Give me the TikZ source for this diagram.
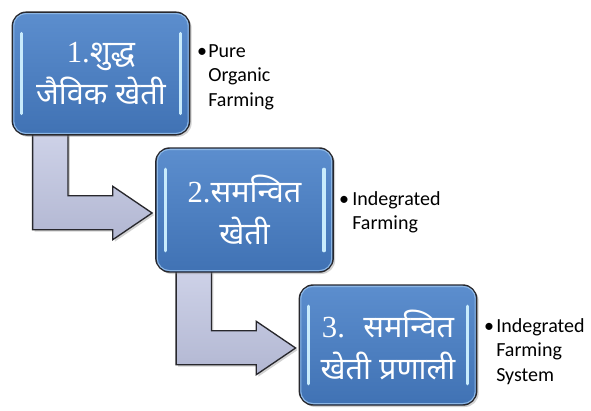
\documentclass[tikz,border=0pt]{standalone}
\usepackage{fontspec}
\setmainfont{Liberation Serif}
\newfontfamily\dev[Script=Devanagari]{Noto Sans}
\newfontfamily\lbl{Carlito}
\usetikzlibrary{calc,shadows,backgrounds}
\definecolor{boxtop}{RGB}{92,142,206}
\definecolor{boxbot}{RGB}{64,114,180}
\definecolor{rim}{RGB}{40,40,45}
\definecolor{innerrim}{RGB}{140,182,228}
\definecolor{glint}{RGB}{200,235,252}
\definecolor{arrfill}{RGB}{206,210,232}
\definecolor{arrdark}{RGB}{178,183,210}
\tikzset{
  box/.style={rounded corners=10.5pt, draw=rim, line width=1.1pt,
    top color=boxtop, bottom color=boxbot, minimum width=133pt,
    text=white, align=center, inner sep=2pt,
    font=\fontsize{23}{31}\selectfont,
    drop shadow={opacity=0.35, shadow xshift=1.5pt, shadow yshift=-1.5pt}},
  glintline/.style={draw=glint, line width=2.4pt, line cap=round},
  innerline/.style={draw=innerrim, line width=0.8pt, rounded corners=9pt},
  blockarrow/.style={draw=rim, line width=1pt, top color=arrfill, bottom color=arrdark,
    drop shadow={opacity=0.35, shadow xshift=1.5pt, shadow yshift=-1.5pt}},
  lab/.style={font=\lbl\fontsize{15}{18.5}\selectfont, align=left, inner sep=0pt, anchor=north west},
  bul/.style={font=\lbl\fontsize{15}{18.5}\selectfont, inner sep=0pt, anchor=base}
}
\begin{document}
\begin{tikzpicture}[x=0.75pt, y=-0.75pt]
\useasboundingbox (0,0) rectangle (591,410);

\node[box, minimum height=92pt] (b1) at (101,73.5) {1.{\dev शुद्ध}\\{\dev जैविक खेती}};
\node[box, minimum height=93pt] (b2) at (244.5,210) {2.{\dev समन्वित}\\{\dev खेती}};
\node[box, minimum height=90pt] (b3) at (388,345) {3.\hspace{0.6em}{\dev समन्वित}\\{\dev खेती प्रणाली}};

\foreach \b in {b1,b2,b3}{
  \draw[innerline] ($(\b.north west)+(2.2,2.2)$) rectangle ($(\b.south east)+(-2.2,-2.2)$);
  \draw[glintline] ($(\b.north west)+(10,22)$) -- ($(\b.south west)+(10,-22)$);
  \draw[glintline] ($(\b.north east)+(-10,22)$) -- ($(\b.south east)+(-10,-22)$);
}

\coordinate (a1s) at ($(b1.south west)+(21,-3)$);
\coordinate (a1t) at ($(b2.west)+(-3,3)$);
\coordinate (a2s) at ($(b2.south west)+(21,-3)$);
\coordinate (a2t) at ($(b3.west)+(-3,3)$);

\begin{pgfonlayer}{background}
\fill[white] (0,0) rectangle (591,410);
\foreach \s/\t in {a1s/a1t, a2s/a2t}{
  \path[blockarrow] let \p1=(\s), \p2=(\t) in
    (\x1,\y1) -- (\x1+26.5pt,\y1) -- (\x1+26.5pt,\y2+13pt) -- (\x2-29.5pt,\y2+13pt)
    -- (\x2-29.5pt,\y2+20pt) -- (\p2) -- (\x2-29.5pt,\y2-20pt) -- (\x2-29.5pt,\y2-12.5pt)
    -- (\x1,\y2-12.5pt) -- cycle;
}
\end{pgfonlayer}

\node[lab] (l1) at (208,44) {Pure\\Organic\\Farming};
\node[bul] (d1) at (202,57) {\textbullet};
\node[lab] (l2) at (352,191) {Indegrated\\Farming};
\node[bul] (d2) at (344,205) {\textbullet};
\node[lab] (l3) at (496,318) {Indegrated\\Farming\\System};
\node[bul] (d3) at (489,332) {\textbullet};
\end{tikzpicture}
\end{document}
